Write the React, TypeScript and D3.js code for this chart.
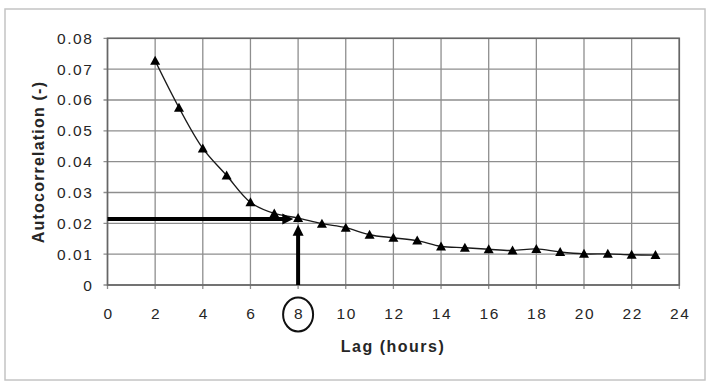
import React from "react";
import * as d3 from "d3";

const lags = [2, 3, 4, 5, 6, 7, 8, 9, 10, 11, 12, 13, 14, 15, 16, 17, 18, 19, 20, 21, 22, 23];
const autocorr = [0.0727, 0.0575, 0.0443, 0.0355, 0.0268, 0.0232, 0.0217, 0.0199, 0.0186, 0.0163, 0.0153, 0.0144, 0.0125, 0.0121, 0.0116, 0.0112, 0.0117, 0.0107, 0.0101, 0.0101, 0.0098, 0.0097];
const xTicks = [0, 2, 4, 6, 8, 10, 12, 14, 16, 18, 20, 22, 24];
const yTicks = [0, 0.01, 0.02, 0.03, 0.04, 0.05, 0.06, 0.07, 0.08];
const yTickLabels = ["0", "0.01", "0.02", "0.03", "0.04", "0.05", "0.06", "0.07", "0.08"];
// annotation arrows: horizontal at y=0.0214 from lag 0 to 7.8; vertical at lag 8 from 0 to 0.0193
const hArrow = { y: 0.0214, x0: 0, x1: 7.8 };
const vArrow = { x: 8, y0: 0, y1: 0.0195 };
const highlightLag = 8;

const W = 707, H = 382;
const M = { left: 107.5, right: 679.3, top: 38.3, bottom: 285 };

export default function App() {
  const x = d3.scaleLinear().domain([0, 24]).range([M.left, M.right]);
  const y = d3.scaleLinear().domain([0, 0.08]).range([M.bottom, M.top]);
  const pts: [number, number][] = lags.map((l, i) => [x(l), y(autocorr[i])]);
  const line = d3.line().curve(d3.curveCatmullRom.alpha(0.5))(pts) || "";
  const tri = (cx: number, cy: number, s = 10) =>
    `M${cx},${cy - s * 0.5} L${cx + s / 2},${cy + s * 0.4} L${cx - s / 2},${cy + s * 0.4} Z`;
  const textCol = "#262626";
  const gridCol = "#8e8e8e";

  const hx1 = x(hArrow.x1), hy = y(hArrow.y);
  const vx = x(vArrow.x), vy1 = y(vArrow.y1);

  return (
    <svg width={W} height={H} style={{ position: "absolute", left: 0, top: 0 }}
      fontFamily="'Liberation Sans', Arial, sans-serif">
      <rect x={0} y={0} width={W} height={H} fill="#fff" />
      <rect x={5} y={9} width={700} height={371} fill="none" stroke="#c4c4c4" strokeWidth={1.5} />
      {xTicks.map((t) => (
        <line key={"gx" + t} x1={x(t)} x2={x(t)} y1={M.top} y2={M.bottom + 4} stroke={gridCol} strokeWidth={1.3} />
      ))}
      {yTicks.map((t) => (
        <line key={"gy" + t} x1={M.left - 4} x2={M.right} y1={y(t)} y2={y(t)} stroke={gridCol} strokeWidth={1.3} />
      ))}
      <rect x={M.left} y={M.top} width={M.right - M.left} height={M.bottom - M.top} fill="none" stroke="#666" strokeWidth={1.6} />
      {yTicks.map((t, i) => (
        <text key={"ly" + t} x={M.left - 14} y={y(t) + 5.5} textAnchor="end" fontSize={15.5} letterSpacing={1.6} fill={textCol}>
          {yTickLabels[i]}
        </text>
      ))}
      {xTicks.map((t) => (
        <text key={"lx" + t} x={x(t) + 1} y={318.5} textAnchor="middle" fontSize={15.5} letterSpacing={1.6} fill={textCol}>
          {t}
        </text>
      ))}
      <ellipse cx={x(highlightLag)} cy={314.5} rx={15} ry={17} fill="none" stroke="#111" strokeWidth={2} />
      <text x={393} y={352} textAnchor="middle" fontSize={16} fontWeight="bold" letterSpacing={1.5} fill={textCol}>
        Lag (hours)
      </text>
      <text transform={`translate(44,${162}) rotate(-90)`} textAnchor="middle" fontSize={16} fontWeight="bold" letterSpacing={1.2} fill={textCol}>
        Autocorrelation (-)
      </text>
      <path d={line} fill="none" stroke="#1a1a1a" strokeWidth={1.4} />
      {pts.map(([px, py], i) => (
        <path key={"m" + i} d={tri(px, py)} fill="#000" />
      ))}
      {/* annotation arrows */}
      <line x1={x(hArrow.x0)} x2={hx1 - 9} y1={hy} y2={hy} stroke="#000" strokeWidth={4} />
      <path d={`M${hx1},${hy} L${hx1 - 11},${hy - 5.5} L${hx1 - 11},${hy + 5.5} Z`} fill="#000" />
      <line x1={vx} x2={vx} y1={y(vArrow.y0)} y2={vy1 + 9} stroke="#000" strokeWidth={4} />
      <path d={`M${vx},${vy1} L${vx - 5.5},${vy1 + 11} L${vx + 5.5},${vy1 + 11} Z`} fill="#000" />
    </svg>
  );
}
